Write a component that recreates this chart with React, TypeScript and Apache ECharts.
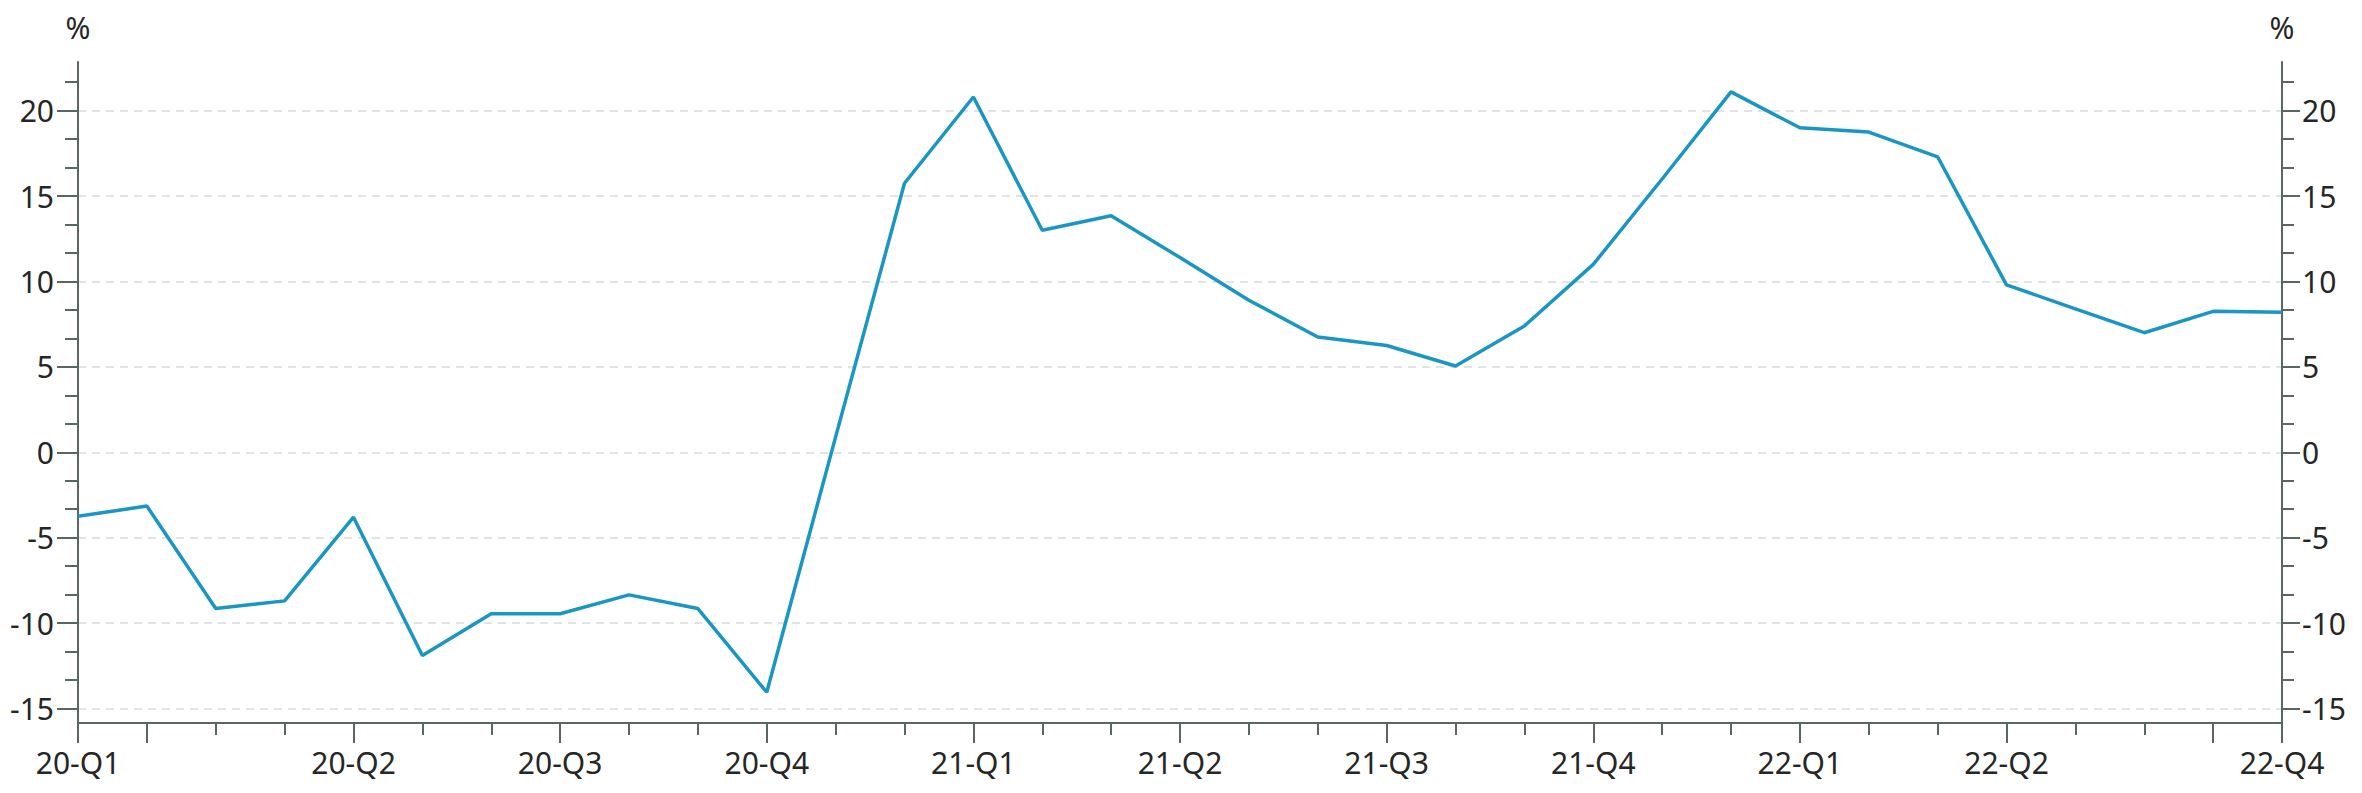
import React, { useEffect, useRef } from 'react';
import * as echarts from 'echarts';

// Tick labels on the category axis ('' = tick without label)
const tickLabels = [
  '20-Q1', '', '', '', '20-Q2', '', '', '20-Q3', '', '', '20-Q4', '', '',
  '21-Q1', '', '', '21-Q2', '', '', '21-Q3', '', '', '21-Q4', '', '',
  '22-Q1', '', '', '22-Q2', '', '', '22-Q3', '22-Q4',
];
const categories = tickLabels.map((_, i) => `P${i + 1}`);

// Series values (%)
const values = [
  -3.75, -3.15, -9.15, -8.7, -3.8, -11.9, -9.45, -9.45, -8.35, -9.15, -14.05,
  0.9, 15.75, 20.8, 13.0, 13.85, 11.4, 8.9, 6.75, 6.25, 5.05,
  7.4, 11.0, 16.0, 21.1, 19.0, 18.75, 17.3, 9.8, 8.4, 7.0, 8.25, 8.2,
];

const majorTickIndex = [0, 1, 4, 7, 10, 13, 16, 19, 22, 25, 28, 31, 32];
const labelIndex = [0, 4, 7, 10, 13, 16, 19, 22, 25, 28, 32];

const yMajorTicks = [-15, -10, -5, 0, 5, 10, 15, 20];
const yMinorTicks = [
  -13.333, -11.667, -8.333, -6.667, -3.333, -1.667, 1.667, 3.333,
  6.667, 8.333, 11.667, 13.333, 16.667, 18.333, 21.667,
];
const yMin = -15.85;
const yMax = 22.85;

const FONT = 'Noto Sans';
const TEXT = '#262626';
const AXIS = '#5a6662';
const LINE = '#1a96c3';
const GRID = '#dfe5e2';
const FS = 30;

export default function App() {
  const ref = useRef<HTMLDivElement>(null);
  useEffect(() => {
    if (!ref.current) return;
    const chart = echarts.init(ref.current, undefined, { renderer: 'svg' });
    const yMajor = (position: 'left' | 'right', withSplit: boolean, margin: number, tickLen: number) => ({
      type: 'value',
      position,
      min: yMin,
      max: yMax,
      name: '%',
      nameLocation: 'end',
      nameGap: 20,
      nameTextStyle: { color: TEXT, fontSize: FS, fontFamily: FONT, align: 'center', verticalAlign: 'bottom' },
      axisLine: { show: true, lineStyle: { color: AXIS, width: 2 } },
      axisTick: { show: true, length: tickLen, customValues: yMajorTicks, lineStyle: { color: AXIS, width: 2 } },
      axisLabel: { show: true, customValues: yMajorTicks, margin, color: TEXT, fontSize: FS, fontFamily: FONT },
      splitLine: withSplit
        ? { show: true, lineStyle: { color: GRID, width: 2, type: [8, 6] } }
        : { show: false },
    });
    const yMinor = (position: 'left' | 'right', tickLen: number) => ({
      type: 'value',
      position,
      min: yMin,
      max: yMax,
      axisLine: { show: false },
      axisTick: { show: true, length: tickLen, customValues: yMinorTicks, lineStyle: { color: AXIS, width: 2 } },
      axisLabel: { show: false },
      splitLine: { show: false },
    });
    chart.setOption({
      animation: false,
      backgroundColor: '#ffffff',
      grid: { left: 78, right: 80, top: 62, bottom: 70, containLabel: false },
      xAxis: [
        {
          type: 'category',
          data: categories,
          boundaryGap: false,
          position: 'bottom',
          axisLine: { show: true, onZero: false, lineStyle: { color: AXIS, width: 2 } },
          axisTick: {
            show: true,
            length: 20,
            interval: (i: number) => majorTickIndex.includes(i),
            lineStyle: { color: AXIS, width: 2 },
          },
          axisLabel: {
            show: true,
            interval: (i: number) => labelIndex.includes(i),
            formatter: (_v: string, i: number) => tickLabels[i],
            margin: 24,
            color: TEXT,
            fontSize: FS,
            fontFamily: FONT,
          },
          splitLine: { show: false },
        },
        {
          type: 'category',
          data: categories,
          boundaryGap: false,
          position: 'bottom',
          offset: 0,
          axisLine: { show: false, onZero: false },
          axisTick: { show: true, length: 12, interval: 0, lineStyle: { color: AXIS, width: 2 } },
          axisLabel: { show: false },
          splitLine: { show: false },
        },
      ],
      yAxis: [
        yMajor('left', true, 24, 21),
        yMinor('left', 13),
        yMajor('right', false, 20, 18),
        yMinor('right', 12),
      ],
      series: [
        {
          type: 'line',
          data: values,
          xAxisIndex: 0,
          yAxisIndex: 0,
          symbol: 'none',
          lineStyle: { color: LINE, width: 3.5 },
          itemStyle: { color: LINE },
        },
      ],
    });
    return () => chart.dispose();
  }, []);
  return (
    <div
      ref={ref}
      style={{ position: 'fixed', left: 0, top: 0, width: 2362, height: 793, background: '#fff' }}
    />
  );
}
